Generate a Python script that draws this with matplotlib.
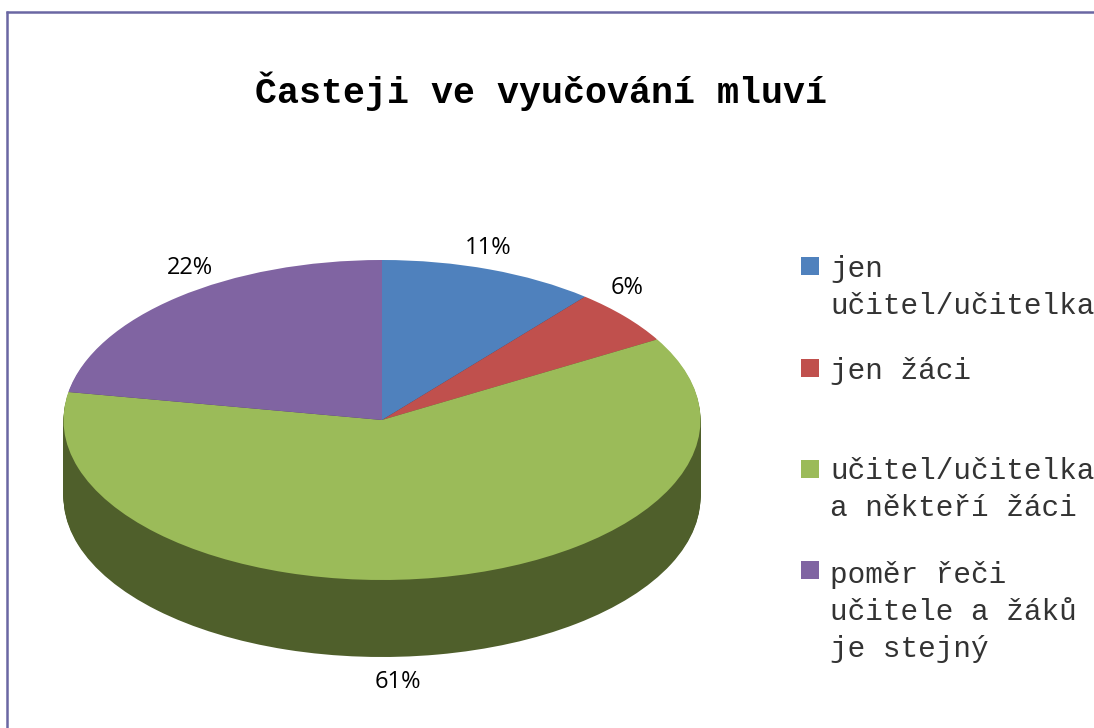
import matplotlib
matplotlib.use('Agg')
import matplotlib.pyplot as plt
from matplotlib.patches import Rectangle

W, H = 1094, 728

values = [11, 5.6, 61.2, 22.2]
pct_labels = ['11%', '6%', '61%', '22%']
names = ['jen\nučitel/učitelka', 'jen žáci', 'učitel/učitelka\na někteří žáci',
         'poměr řeči\nučitele a žáků\nje stejný']
colors = ['#4F81BD', '#C0504D', '#9BBB59', '#8064A2']
side_colors = ['#2A4566', '#682B29', '#4F5F2B', '#463658']

# pixel placement of things
cx, cy, rx, ry, depth = 382, 420, 318.5, 160, 77
label_pos = [(488, 248), (627, 288), (398, 682), (190, 268)]
legend_y = [(266, 269), (368, 371), (469, 471), (570, 575)]


def fx(x):
    return x / W


def fy(y):
    return 1 - y / H


fig = plt.figure(figsize=(W / 100, H / 100), dpi=100)
ax = fig.add_axes([0, 0, 1, 1])

# side of the 3d pie: the same pie stacked downwards in dark colours
for k in range(depth, 0, -1):
    ax.pie(values, colors=side_colors, startangle=90, counterclock=False,
           center=(0, -k / ry), radius=1, frame=True)
ax.pie(values, colors=colors, startangle=90, counterclock=False,
       center=(0, 0), radius=1, frame=True)

ax.set_aspect('auto')
ax.set_xlim(-cx / rx, (W - cx) / rx)
ax.set_ylim(-(H - cy) / ry, cy / ry)
ax.axis('off')

# chart border, only top and left are in the crop
fig.add_artist(plt.Line2D([fx(7), fx(7)], [0, fy(11)], color='#6A67A3', lw=1.8,
                          solid_capstyle='butt'))
fig.add_artist(plt.Line2D([fx(6), 1], [fy(12), fy(12)], color='#6A67A3', lw=1.8,
                          solid_capstyle='butt'))

fig.text(fx(541), fy(91), 'Časteji ve vyučování mluví', family='Liberation Mono',
         weight='bold', fontsize=26.4, ha='center', va='center', color='black')

for (x, y), s in zip(label_pos, pct_labels):
    fig.text(fx(x), fy(y), s, family='Open Sans', fontsize=17, ha='center',
             va='center', color='black')

for (sy, ty), name, c in zip(legend_y, names, colors):
    fig.add_artist(Rectangle((fx(801), fy(sy + 9)), 18 / W, 18 / H, color=c, lw=0,
                             transform=fig.transFigure))
    fig.text(fx(830), fy(ty - 14), name, family='Liberation Mono', fontsize=21.2,
             ha='left', va='top', color='#333333', linespacing=1.4)

fig.savefig('out.png', dpi=100)
